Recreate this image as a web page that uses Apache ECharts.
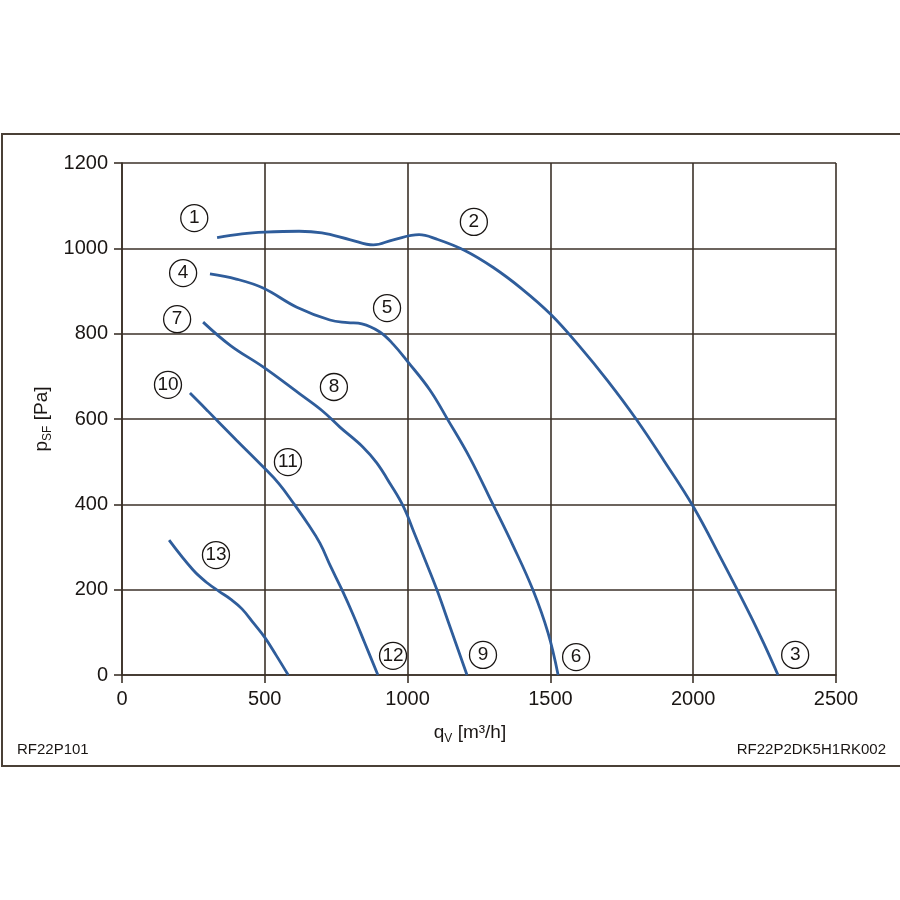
<!DOCTYPE html>
<html>
<head>
<meta charset="utf-8">
<script src="https://cdn.jsdelivr.net/npm/echarts@6/dist/echarts.min.js"></script>
<style>html,body{margin:0;padding:0;background:#fff;}#c{width:900px;height:900px;}</style>
</head>
<body>
<div id="c"></div>
<script>
// Tick settings
var xTicks = [0, 500, 1000, 1500, 2000, 2500];
var yTicks = [0, 200, 400, 600, 800, 1000, 1200];

// Curve data [qV m3/h, psF Pa]
var curve123 = [[333,1025],[420,1034],[500,1038],[620,1040],[700,1036],[800,1020],[880,1008],[950,1020],[1040,1032],[1100,1022],[1200,995],[1300,955],[1400,905],[1500,846],[1600,772],[1700,690],[1800,600],[1900,500],[2000,395],[2100,270],[2200,140],[2250,70],[2297,0]];
var curve456 = [[308,940],[400,928],[494,907],[612,862],[728,832],[790,826],[840,823],[903,804],[950,775],[1001,734],[1078,668],[1141,598],[1218,509],[1295,405],[1370,302],[1439,199],[1492,98],[1527,0]];
var curve789 = [[284,827],[380,772],[494,722],[620,660],[700,620],[763,581],[844,534],[892,497],[940,447],[985,395],[1025,330],[1061,270],[1103,199],[1150,110],[1208,0]];
var curve101112 = [[238,661],[300,619],[400,551],[494,488],[550,448],[600,403],[650,355],[693,309],[730,255],[770,200],[810,140],[850,75],[896,0]];
var curve13 = [[165,316],[249,246],[300,215],[340,196],[380,178],[420,155],[460,122],[501,87],[540,46],[582,0]];

// Circled curve labels
var markerLabels = [[253,1071,'1'],[1232,1062,'2'],[2357,47,'3'],[214,942,'4'],[928,860,'5'],[1590,42,'6'],[193,834,'7'],[742,675,'8'],[1264,47,'9'],[161,680,'10'],[581,499,'11'],[949,45,'12'],[329,281,'13']];

var font = '"Liberation Sans", Arial, Helvetica, sans-serif';
var gridColor = '#3b3129';
var textColor = '#1a1614';
var curveColor = '#2f5d9b';

function curveSeries(d) {
  return {type:'line', data:d, smooth:0.4, showSymbol:false, symbol:'none',
    lineStyle:{color:curveColor, width:2.8}, z:3, silent:true};
}

var chart = echarts.init(document.getElementById('c'), null, {renderer:'canvas'});
chart.setOption({
  animation:false,
  backgroundColor:'#fff',
  grid:{left:122, top:163, right:64, bottom:225, containLabel:false, show:false},
  xAxis:{type:'value', min:xTicks[0], max:xTicks[xTicks.length-1], interval:500,
    axisLine:{show:true, onZero:false, lineStyle:{color:gridColor, width:1.6}},
    axisTick:{show:true, length:8, lineStyle:{color:gridColor, width:1.6}},
    axisLabel:{fontSize:20, color:textColor, fontFamily:font, margin:14, formatter:function(v){return String(v);}},
    splitLine:{show:true, lineStyle:{color:gridColor, width:1.6}}},
  yAxis:{type:'value', min:yTicks[0], max:yTicks[yTicks.length-1], interval:200,
    axisLine:{show:true, lineStyle:{color:gridColor, width:1.6}},
    axisTick:{show:true, length:8, lineStyle:{color:gridColor, width:1.6}},
    axisLabel:{fontSize:20, color:textColor, fontFamily:font, margin:14, formatter:function(v){return String(v);}},
    splitLine:{show:true, lineStyle:{color:gridColor, width:1.6}}},
  graphic:[
    {type:'rect', shape:{x:2, y:134, width:920, height:632}, style:{fill:'none', stroke:'#4a4036', lineWidth:2}, z:-1, silent:true},
    {type:'text', x:42, y:419, rotation:Math.PI/2,
      style:{text:'{a|p}{b|SF}{a| [Pa]}', align:'center', verticalAlign:'middle', fill:textColor,
        rich:{a:{fontSize:19, fontFamily:font, fill:textColor, lineHeight:24, verticalAlign:'middle'},
              b:{fontSize:12, fontFamily:font, fill:textColor, lineHeight:24, verticalAlign:'bottom'}}}},
    {type:'text', x:470, y:733,
      style:{text:'{a|q}{b|V}{a| [m³/h]}', align:'center', verticalAlign:'middle', fill:textColor,
        rich:{a:{fontSize:19, fontFamily:font, fill:textColor, lineHeight:24, verticalAlign:'middle'},
              b:{fontSize:12, fontFamily:font, fill:textColor, lineHeight:24, verticalAlign:'bottom'}}}},
    {type:'text', x:17, y:750, style:{text:'RF22P101', fontSize:15, fontFamily:font, fill:textColor, align:'left', verticalAlign:'middle'}},
    {type:'text', x:886, y:750, style:{text:'RF22P2DK5H1RK002', fontSize:15, fontFamily:font, fill:textColor, align:'right', verticalAlign:'middle'}}
  ],
  series:[
    curveSeries(curve123), curveSeries(curve456), curveSeries(curve789), curveSeries(curve101112), curveSeries(curve13),
    {type:'scatter', data:markerLabels, symbol:'circle', symbolSize:27, z:4, silent:true,
      itemStyle:{color:'#fff', borderColor:'#1a1614', borderWidth:1.3, opacity:1},
      label:{show:true, position:'inside', formatter:function(p){return p.data[2];}, fontSize:19, fontFamily:font, color:textColor, textBorderWidth:0, opacity:1}}
  ]
});
</script>
</body>
</html>
